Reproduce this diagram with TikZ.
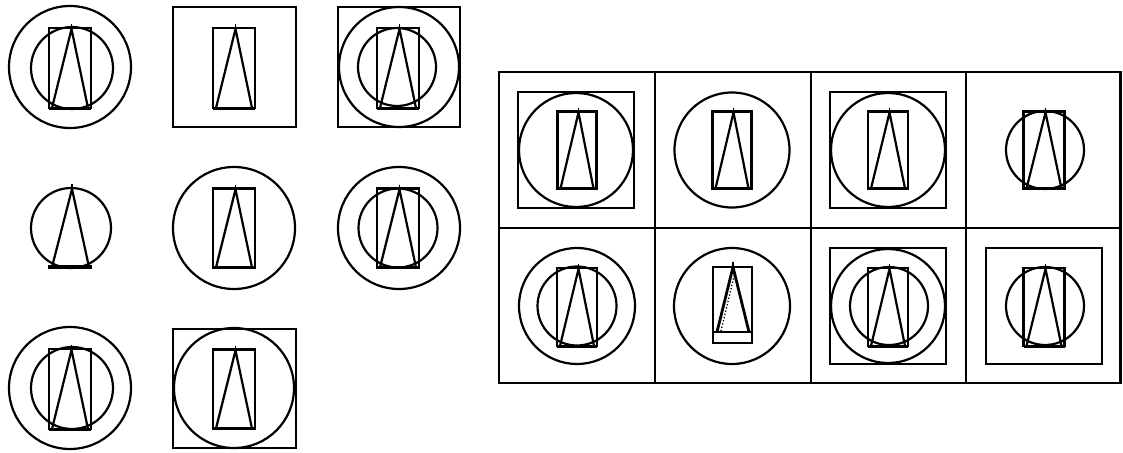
\documentclass[tikz,border=0pt]{standalone}
\usetikzlibrary{calc}
\tikzset{
  ln/.style={line width=2.2pt, black},
  frameln/.style={line width=2.6pt, black},
  thin tick/.style={line width=1.1pt, black}
}
% glyph: rectangle with triangle; args: cx, cy, w, h
\newcommand\glyph[4]{%
  \draw[ln] ({#1-#3/2},{#2-#4/2}) rectangle ({#1+#3/2},{#2+#4/2});
  \draw[line width=3pt] ({#1-#3/2},{#2+#4/2}) -- ({#1+#3/2},{#2+#4/2});
  \draw[ln, line join=miter] ({#1-#3/2+3},{#2+#4/2}) -- ({#1+1.5},{#2-#4/2+1}) -- ({#1+#3/2-3},{#2+#4/2});
  \draw[thin tick] ({#1+1.5},{#2-#4/2-4}) -- ({#1+1.5},{#2-#4/2+1});
}
\begin{document}
\begin{tikzpicture}[x=1pt,y=-1pt]
\useasboundingbox (0,0) rectangle (1123,452);
\fill[white] (0,0) rectangle (1123,452);
% ---------- left grid ----------
% (1,1)
\draw[ln] (70,67) circle[radius=61pt];
\draw[ln] (72,68) circle[radius=41pt];
\glyph{70}{68}{42}{80}
% (1,2)
\draw[frameln] (173,7) rectangle (296,127);
\glyph{234}{68}{42}{80}
% (1,3)
\draw[frameln] (338,7) rectangle (460,127);
\draw[ln] (399,67) circle[radius=60pt];
\draw[ln] (397,67) circle[radius=39pt];
\glyph{398}{68}{42}{80}
% (2,1)
\draw[ln] (71,228) circle[radius=40pt];
\draw[ln, line join=miter] (52,267) -- (72,189) -- (89,267);
\draw[line width=3.2pt] (48,267) -- (92,267);
\draw[thin tick] (72,184) -- (72,189);
% (2,2)
\draw[ln] (234,228) circle[radius=61pt];
\glyph{234}{228}{42}{79}
% (2,3)
\draw[ln] (399,228) circle[radius=61pt];
\draw[ln] (398,228) circle[radius=39.5pt];
\glyph{398}{228}{42}{79}
% (3,1)
\draw[ln] (70,388) circle[radius=61pt];
\draw[ln] (72,388) circle[radius=41pt];
\glyph{70}{389}{42}{80}
% (3,2)
\draw[frameln] (173,329) rectangle (296,448);
\draw[ln] (234,388) circle[radius=60pt];
\glyph{234}{389}{42}{79}
% ---------- right panel ----------
\draw[frameln] (499,72) rectangle (1120.5,383);
\draw[frameln] (655,72) -- (655,383);
\draw[frameln] (811,72) -- (811,383);
\draw[frameln] (966,72) -- (966,383);
\draw[frameln] (499,228) -- (1120.5,228);
% (1,1)
\draw[ln] (518,92) rectangle (634,208);
\draw[ln] (576,150) circle[radius=57pt];
\glyph{577}{150}{39}{77}
% (1,2)
\draw[ln] (732,150) circle[radius=57.5pt];
\glyph{732}{150}{39}{77}
% (1,3)
\draw[ln] (830,92) rectangle (946,208);
\draw[ln] (888,150) circle[radius=57pt];
\glyph{888}{150}{40}{77}
% (1,4)
\draw[ln] (1045,150) circle[radius=39pt];
\glyph{1044}{150}{41}{77}
% (2,1)
\draw[ln] (577,306) circle[radius=58pt];
\draw[ln] (577,306) circle[radius=39.5pt];
\glyph{577}{307}{40}{78}
% (2,2)
\draw[ln] (732,306) circle[radius=58pt];
\draw[ln] (713,267) rectangle (752,343);
\draw[ln] (714,332) -- (751,332);
\draw[line width=2.8pt, line join=miter] (717,332) -- (733,267) -- (749,332);
\draw[line width=1.3pt, dotted] (721,331) -- (735,272);
\draw[thin tick] (733,262) -- (733,267);
% (2,3)
\draw[ln] (830,248) rectangle (946,364);
\draw[ln] (888,306) circle[radius=57pt];
\draw[ln] (889,306) circle[radius=39pt];
\glyph{888}{307}{40}{78}
% (2,4)
\draw[ln] (986,248) rectangle (1102,364);
\draw[ln] (1045,306) circle[radius=39pt];
\glyph{1044}{307}{41}{78}
\end{tikzpicture}
\end{document}
